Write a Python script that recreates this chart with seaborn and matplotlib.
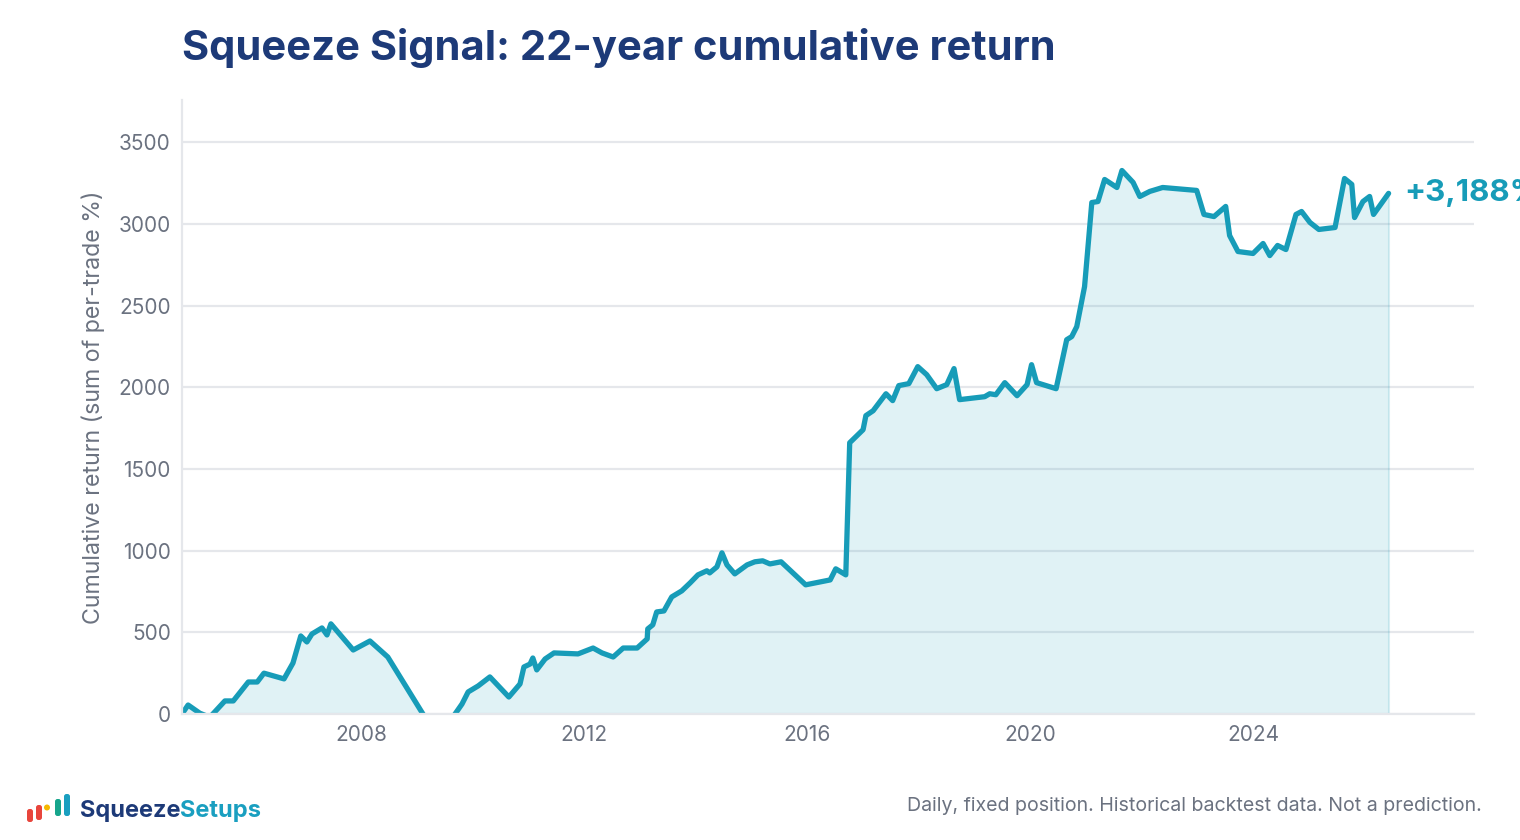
import numpy as np
import pandas as pd
import seaborn as sns
import matplotlib.pyplot as plt
from matplotlib.patches import FancyBboxPatch, Circle

# cumulative return of the signal (decimal year, sum of per-trade %)
year = [2004.81, 2004.90, 2005.11, 2005.29, 2005.56, 2005.71, 2005.98, 2006.14,
        2006.26, 2006.62, 2006.78, 2006.92, 2007.03, 2007.12, 2007.30, 2007.39,
        2007.46, 2007.86, 2008.16, 2008.48, 2009.11, 2009.38, 2009.81, 2009.92,
        2010.10, 2010.31, 2010.65, 2010.85, 2010.92, 2011.03, 2011.08, 2011.15,
        2011.30, 2011.46, 2011.89, 2012.16, 2012.32, 2012.52, 2012.70, 2012.95,
        2013.13, 2013.14, 2013.23, 2013.30, 2013.43, 2013.57, 2013.75, 2013.90,
        2014.04, 2014.20, 2014.25, 2014.38, 2014.47, 2014.56, 2014.70, 2014.92,
        2015.06, 2015.20, 2015.33, 2015.53, 2015.97, 2016.41, 2016.51, 2016.69,
        2016.76, 2017.00, 2017.05, 2017.18, 2017.41, 2017.53, 2017.64, 2017.82,
        2017.98, 2018.14, 2018.32, 2018.50, 2018.63, 2018.73, 2019.18, 2019.27,
        2019.38, 2019.54, 2019.76, 2019.94, 2020.02, 2020.11, 2020.46, 2020.65,
        2020.74, 2020.83, 2020.97, 2021.10, 2021.21, 2021.33, 2021.55, 2021.64,
        2021.84, 2021.96, 2022.14, 2022.37, 2022.98, 2023.11, 2023.29, 2023.50,
        2023.57, 2023.72, 2023.99, 2024.17, 2024.29, 2024.43, 2024.58, 2024.76,
        2024.86, 2025.01, 2025.17, 2025.46, 2025.63, 2025.76, 2025.81, 2025.96,
        2026.08, 2026.15, 2026.42]
cum_return = [10, 55, 5, -20, 80, 80, 196, 196,
              250, 215, 312, 478, 441, 490, 527, 484,
              552, 392, 447, 349, 0, -150, 61, 135,
              172, 227, 104, 184, 288, 306, 343, 270,
              337, 374, 368, 404, 374, 349, 404, 404,
              460, 521, 546, 625, 631, 717, 754, 803,
              852, 877, 864, 901, 987, 913, 858, 913,
              932, 938, 919, 932, 791, 821, 889, 852,
              1661, 1741, 1827, 1857, 1961, 1919, 2011, 2023,
              2127, 2078, 1992, 2017, 2115, 1925, 1943, 1961,
              1955, 2029, 1949, 2017, 2139, 2029, 1992, 2292,
              2311, 2372, 2617, 3132, 3138, 3273, 3224, 3328,
              3255, 3169, 3200, 3224, 3206, 3059, 3046, 3108,
              2930, 2832, 2820, 2881, 2807, 2869, 2844, 3059,
              3077, 3010, 2967, 2979, 3279, 3243, 3040, 3138,
              3169, 3059, 3188]
x_ticks = [2008, 2012, 2016, 2020, 2024]
y_ticks = [0, 500, 1000, 1500, 2000, 2500, 3000, 3500]

LINE = '#179cb8'
NAVY = '#1d3a78'
GRAY = '#6b7280'
GRID = '#e5e7eb'

sns.set_theme(style='white')
plt.rcParams['font.family'] = ['Inter', 'DejaVu Sans']

df = pd.DataFrame({'year': year, 'ret': cum_return})

fig = plt.figure(figsize=(15.2, 8.4), dpi=100)
ax = fig.add_axes([0.1197, 0.15, 0.85, 0.731])

ax.fill_between(df['year'], df['ret'], 0, color=LINE, alpha=0.13, lw=0)
ax.vlines(df['year'].iloc[-1], 0, df['ret'].iloc[-1], color=LINE, alpha=0.15, lw=1.5)
sns.lineplot(data=df, x='year', y='ret', ax=ax, color=LINE, lw=3.8)

ax.set_xlim(2004.79, 2027.95)
ax.set_ylim(0, 3760)
ax.set_xticks(x_ticks)
ax.set_xticklabels([str(t) for t in x_ticks])
ax.set_yticks(y_ticks)
ax.grid(axis='y', color=GRID, lw=1.6)
ax.set_axisbelow(True)
for side in ['top', 'right']:
    ax.spines[side].set_visible(False)
for side in ['left', 'bottom']:
    ax.spines[side].set_color(GRID)
    ax.spines[side].set_linewidth(1.6)
ax.tick_params(length=0, colors=GRAY, labelsize=15, pad=8)
ax.set_xlabel('')
ax.set_ylabel('Cumulative return (sum of per-trade %)', color=GRAY, fontsize=16.7, labelpad=10)

# end label (runs off the right edge, as in the source)
ax.annotate(f"+{cum_return[-1]:,}%", xy=(year[-1], cum_return[-1]), xytext=(11, 0),
            textcoords='offset points', va='center', ha='left', fontsize=22.5,
            fontweight='bold', color=LINE, annotation_clip=False)

fig.text(0.1197, 0.928, 'Squeeze Signal: 22-year cumulative return', fontsize=30,
         fontweight='bold', color=NAVY, ha='left', va='baseline')
fig.text(0.975, 0.0345, 'Daily, fixed position. Historical backtest data. Not a prediction.',
         fontsize=14.1, color=GRAY, ha='right', va='baseline')

# logo
lax = fig.add_axes([0, 0, 1, 1], zorder=-1)
lax.set_xlim(0, 1520)
lax.set_ylim(840, 0)
lax.axis('off')
for x0, top, bot, col in [(27, 809, 822, '#e8453c'), (36, 805, 820, '#e8453c'),
                          (55, 799, 816, '#16a58c'), (64, 794, 816, '#1a9fc0')]:
    lax.add_patch(FancyBboxPatch((x0 + 1, top + 1), 4, bot - top - 2,
                                 boxstyle='round,pad=1,rounding_size=2.5', color=col, lw=0))
lax.add_patch(Circle((47, 807.5), 3, color='#f5b800', lw=0))
t1 = fig.text(0.0526, 0.027, 'Squeeze', fontsize=17, fontweight='bold', color=NAVY,
              ha='left', va='baseline')
lax.annotate('Setups', xy=(1, 0), xycoords=t1, fontsize=17, fontweight='bold',
             color='#1a9fc0', ha='left', va='bottom')

fig.savefig('out.png', dpi=100)
